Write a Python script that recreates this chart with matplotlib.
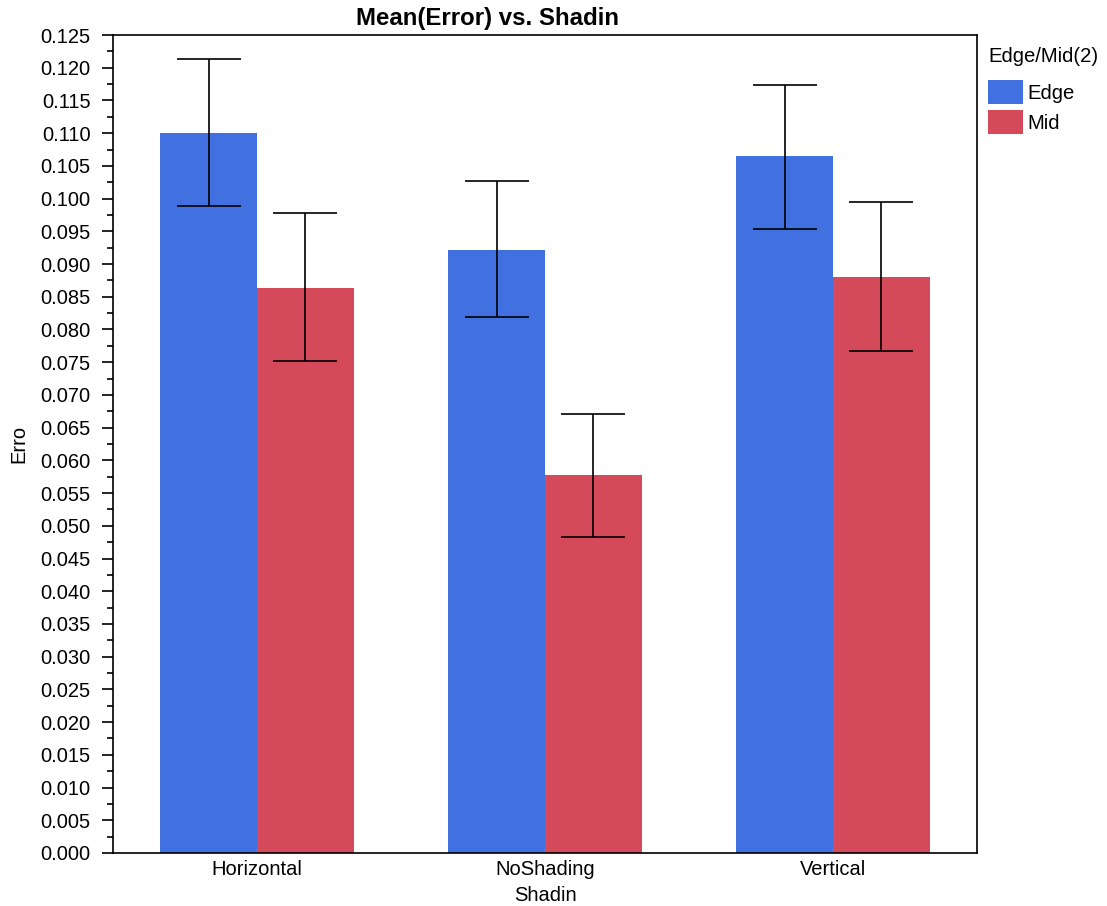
import matplotlib.pyplot as plt
import numpy as np
from matplotlib.ticker import MultipleLocator, FormatStrFormatter

plt.rcParams['font.family'] = ['Liberation Sans', 'DejaVu Sans']

categories = ['Horizontal', 'NoShading', 'Vertical']
edge_mean = [0.1100, 0.0921, 0.1065]
edge_lo = [0.0989, 0.0819, 0.0954]
edge_hi = [0.1214, 0.1027, 0.1174]
mid_mean = [0.0863, 0.0578, 0.0880]
mid_lo = [0.0752, 0.0483, 0.0767]
mid_hi = [0.0978, 0.0671, 0.0995]

fig = plt.figure(figsize=(11.07, 9.06), dpi=100)
ax = fig.add_axes([113/1107, 1-853/906, 864/1107, 818/906])

x = np.arange(len(categories))
w = 0.336
edge_err = [np.array(edge_mean) - np.array(edge_lo), np.array(edge_hi) - np.array(edge_mean)]
mid_err = [np.array(mid_mean) - np.array(mid_lo), np.array(mid_hi) - np.array(mid_mean)]

ax.bar(x - w/2, edge_mean, w, color='#4170E0', label='Edge')
ax.bar(x + w/2, mid_mean, w, color='#D54A5A', label='Mid')
ax.errorbar(x - w/2, edge_mean, yerr=edge_err, fmt='none', ecolor='black', elinewidth=1.2, capsize=23, capthick=1.2)
ax.errorbar(x + w/2, mid_mean, yerr=mid_err, fmt='none', ecolor='black', elinewidth=1.2, capsize=23, capthick=1.2)

ax.set_xlim(-0.5, 2.5)
ax.set_ylim(0, 0.125)
ax.set_xticks(x)
ax.set_xticklabels(categories)
ax.tick_params(axis='x', length=0, labelsize=14.5, pad=5)
ax.yaxis.set_major_locator(MultipleLocator(0.005))
ax.yaxis.set_minor_locator(MultipleLocator(0.0025))
ax.yaxis.set_major_formatter(FormatStrFormatter('%.3f'))
ax.tick_params(axis='y', which='major', length=8, width=1.2, labelsize=14.5, pad=8)
ax.tick_params(axis='y', which='minor', length=4, width=1.2)
for s in ax.spines.values():
    s.set_linewidth(1.2)

# title sits a bit left of the axes centre in the original
fig.text(488/1107, 1-18/906, 'Mean(Error) vs. Shadin', fontsize=17.3, fontweight='bold',
         ha='center', va='center')
ax.set_xlabel('Shadin', fontsize=14.5, labelpad=5)
ax.set_ylabel('Erro', fontsize=14.5, labelpad=9)

fig.text(988/1107, 1-57/906, 'Edge/Mid(2)', fontsize=14.6, ha='left', va='center')
leg = ax.legend(loc='upper left', bbox_to_anchor=(988/1107, 1-80/906),
                bbox_transform=fig.transFigure, frameon=False, fontsize=14.6,
                handlelength=1.75, handleheight=1.45, handletextpad=0.2,
                labelspacing=0.3, borderaxespad=0, borderpad=0)

fig.savefig('out.png', dpi=100)
